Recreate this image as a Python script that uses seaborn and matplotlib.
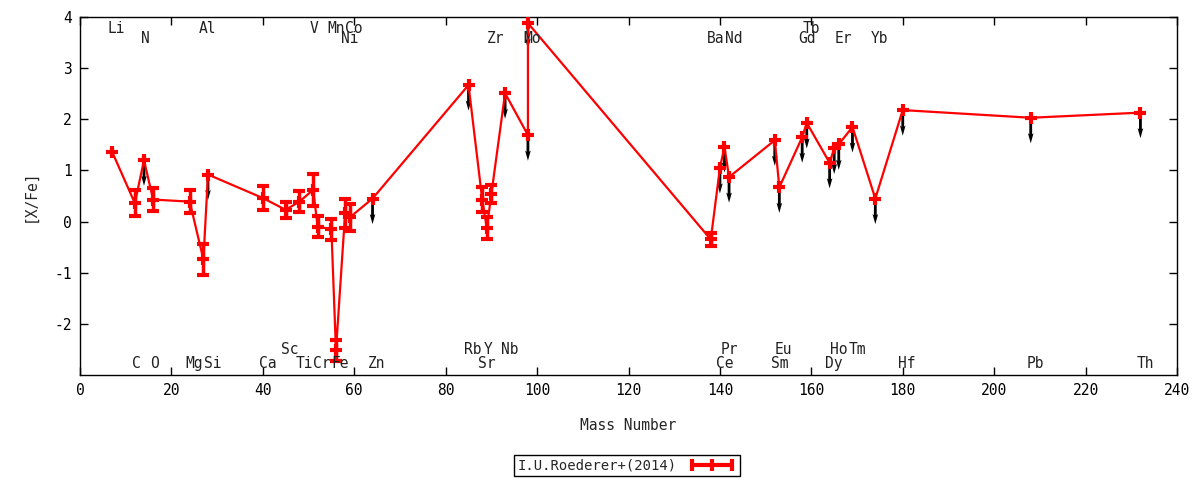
import numpy as np
import pandas as pd
import matplotlib
matplotlib.use("Agg")
import matplotlib.pyplot as plt
import seaborn as sns
from matplotlib.lines import Line2D

# ---------------- data ----------------
elements = ["Li", "C", "N", "O", "Mg", "Al", "Si", "Ca", "Sc", "Ti", "V", "Cr", "Mn", "Fe",
            "Ni", "Co", "Zn", "Rb", "Sr", "Y", "Zr", "Nb", "Mo", "Mo", "Ba", "Ce", "Pr", "Nd",
            "Sm", "Eu", "Gd", "Tb", "Dy", "Ho", "Er", "Tm", "Yb", "Hf", "Pb", "Th"]
mass = [7, 12, 14, 16, 24, 27, 28, 40, 45, 48, 51, 52, 55, 56,
        58, 59, 64, 85, 88, 89, 90, 93, 98, 98, 138, 140, 141, 142,
        152, 153, 158, 159, 164, 165, 166, 169, 174, 180, 208, 232]
x_fe = [1.37, 0.36, 1.20, 0.43, 0.39, -0.74, 0.92, 0.46, 0.23, 0.39, 0.62, -0.10, -0.15, -2.52,
        0.16, 0.08, 0.45, 2.67, 0.43, -0.13, 0.54, 2.51, 1.69, 3.88, -0.35, 1.05, 1.46, 0.87,
        1.59, 0.67, 1.65, 1.93, 1.15, 1.43, 1.51, 1.85, 0.45, 2.18, 2.03, 2.13]
x_fe_err = [0.0, 0.25, 0.0, 0.22, 0.23, 0.30, 0.0, 0.24, 0.16, 0.21, 0.31, 0.21, 0.21, 0.20,
            0.28, 0.26, 0.0, 0.0, 0.24, 0.21, 0.18, 0.0, 0.0, 0.0, 0.13, 0.0, 0.0, 0.0,
            0.0, 0.0, 0.0, 0.0, 0.0, 0.0, 0.0, 0.0, 0.0, 0.0, 0.0, 0.0]
upper_limit = [False, False, True, False, False, False, True, False, False, False, False, False, False, False,
               False, False, True, True, False, False, False, True, True, True, False, True, True, True,
               True, True, True, True, True, True, True, True, True, True, True, True]

# element name labels: mass position and row (top1/top2 above, bot1/bot2 below)
label_names = ["Li", "N", "C", "O", "Mg", "Al", "Si", "Ca", "Sc", "Ti", "V", "Cr", "Mn", "Fe",
               "Ni", "Co", "Zn", "Rb", "Sr", "Y", "Zr", "Nb", "Mo", "Ba", "Ce", "Pr", "Nd",
               "Sm", "Eu", "Gd", "Tb", "Dy", "Ho", "Er", "Tm", "Yb", "Hf", "Pb", "Th"]
label_mass = [7, 14, 12, 16, 24, 27, 28, 40, 45, 48, 51, 52, 55, 56,
              58, 59, 64, 85, 88, 89, 90, 93, 98, 138, 140, 141, 142,
              152, 153, 158, 159, 164, 165, 166, 169, 174, 180, 208, 232]
label_rows = ["top1", "top2", "bot2", "bot2", "bot2", "top1", "bot2", "bot2", "bot1", "bot2", "top1", "bot2", "top1", "bot2",
              "top2", "top1", "bot2", "bot1", "bot2", "bot1", "top2", "bot1", "top2", "top2", "bot2", "bot1", "top2",
              "bot2", "bot1", "top2", "top1", "bot2", "bot1", "top2", "bot1", "top2", "bot2", "bot2", "bot2"]

series_name = "I.U.Roederer+(2014)"
x_ticks = list(range(0, 241, 20))
y_ticks = [-2, -1, 0, 1, 2, 3, 4]
arrow_len = 0.5  # length of the upper-limit arrows, in dex

assert len(elements) == len(mass) == len(x_fe) == len(x_fe_err) == len(upper_limit)
assert len(label_names) == len(label_mass) == len(label_rows)

df = pd.DataFrame({"element": elements, "mass": mass, "x_fe": x_fe,
                   "err": x_fe_err, "upper": upper_limit})

# ---------------- style ----------------
sns.set_theme(style="ticks")
plt.rcParams["font.family"] = ["DejaVu Sans Mono", "DejaVu Sans"]
plt.rcParams["font.size"] = 10
plt.rcParams["axes.unicode_minus"] = False
plt.rcParams["xtick.direction"] = "in"
plt.rcParams["ytick.direction"] = "in"

fig = plt.figure(figsize=(12, 4.8), dpi=100)
ax = fig.add_axes([80 / 1200, 105 / 480, 1097 / 1200, 358 / 480])

# upper-limit arrows in data units, beneath the red markers
ul = df[df["upper"]]
ax.quiver(ul["mass"], ul["x_fe"], np.zeros(len(ul)), -arrow_len * np.ones(len(ul)),
          angles="xy", scale_units="xy", scale=1, units="dots", width=2.8,
          headwidth=2.0, headlength=3.6, headaxislength=3.2, color="black", zorder=2)

# connecting line with markers
sns.lineplot(data=df, x="mass", y="x_fe", sort=False, estimator=None, ax=ax,
             color="red", lw=1.6, marker="+", markersize=9, markeredgewidth=3,
             markeredgecolor="red", zorder=4, legend=False)

# error bars
eb = df[df["err"] > 0]
ax.errorbar(eb["mass"], eb["x_fe"], yerr=eb["err"], fmt="none", ecolor="red",
            elinewidth=2.5, capsize=4, capthick=3, zorder=4)

# element labels
row_y = {"top1": 3.77, "top2": 3.58, "bot1": -2.51, "bot2": -2.77}
for name, m, r in zip(label_names, label_mass, label_rows):
    off = 3.2 * len(name) - 1.9  # pixel offset of centred label
    ax.annotate(name, xy=(m, row_y[r]), xytext=(off * 0.72, 0), textcoords="offset points",
                ha="center", va="center", fontsize=10.5, color="#222222", zorder=5)

ax.set_xlim(0, 240)
ax.set_ylim(-3, 4)
ax.set_xticks(x_ticks)
ax.set_yticks(y_ticks)
ax.tick_params(axis="both", which="both", top=True, right=True, length=6, width=1,
               labelsize=10.5, colors="black", pad=6)
for s in ax.spines.values():
    s.set_color("black")
    s.set_linewidth(1)
ax.set_xlabel("Mass Number", fontsize=10.5, labelpad=14)
ax.set_ylabel("[X/Fe]", fontsize=10.5, labelpad=12)

handle = Line2D([], [], color="red", lw=3, marker="|", markersize=9, markeredgewidth=3)
leg = fig.legend([handle], [series_name], loc="center", bbox_to_anchor=(627 / 1200, 1 - 465.5 / 480),
                 numpoints=3, markerfirst=False, handlelength=3.5, fancybox=False,
                 framealpha=1, edgecolor="black", fontsize=10, borderpad=0.25,
                 handletextpad=0.8, borderaxespad=0)
leg.get_frame().set_linewidth(1)

fig.savefig("out.png", dpi=100)
